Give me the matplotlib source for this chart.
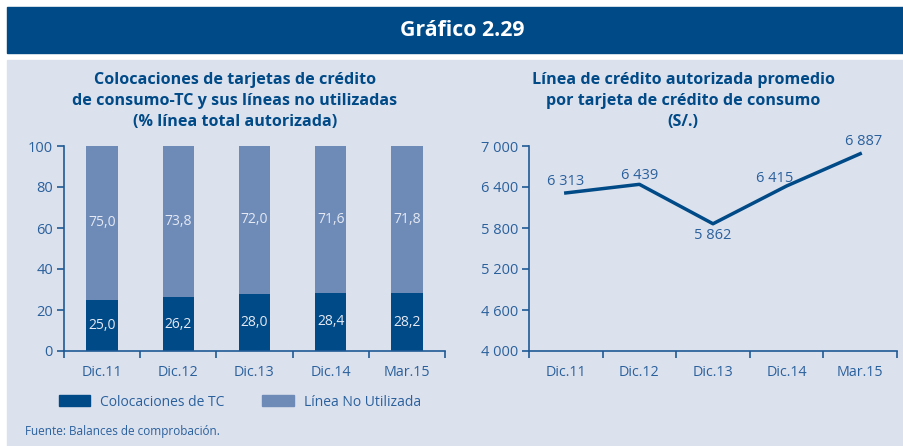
import matplotlib.pyplot as plt
from matplotlib.patches import Rectangle, Patch

plt.rcParams['font.family'] = ['Open Sans', 'DejaVu Sans']

# Data
periodos = ['Dic.11', 'Dic.12', 'Dic.13', 'Dic.14', 'Mar.15']
colocaciones_tc = [25.0, 26.2, 28.0, 28.4, 28.2]
linea_no_utilizada = [75.0, 73.8, 72.0, 71.6, 71.8]
linea_promedio = [6313, 6439, 5862, 6415, 6887]
etiquetas_linea = ['6 313', '6 439', '5 862', '6 415', '6 887']
offsets_linea = [(0, 11), (0, 9), (0, -12), (-12, 7), (3, 12)]

azul_oscuro = '#004a87'
azul_claro = '#6e8bb8'
fondo = '#dce1ee'
color_texto = '#2a619c'
color_eje = '#1f5a96'

W, H = 904, 446
fig = plt.figure(figsize=(W / 100, H / 100), dpi=100)

# banner and panel background
fig.patches.append(Rectangle((7 / W, 1 - 53 / H), 1, 46 / H, transform=fig.transFigure,
                             color=azul_oscuro, zorder=-2))
fig.patches.append(Rectangle((7 / W, 0), 1, 1 - 60 / H, transform=fig.transFigure,
                             color=fondo, zorder=-2))
fig.text(462 / W, 1 - 31 / H, 'Gráfico 2.29', color='white', fontsize=15.3,
         fontweight='bold', ha='center', va='center')


def estilo(ax):
    ax.set_facecolor('none')
    for s in ['top', 'right']:
        ax.spines[s].set_visible(False)
    for s in ['left', 'bottom']:
        ax.spines[s].set_color(color_eje)
        ax.spines[s].set_linewidth(1.2)
    ax.set_xlim(-0.5, 4.5)
    ax.set_xticks([i - 0.5 for i in range(6)])
    ax.set_xticklabels([])
    ax.set_xticks(range(5), minor=True)
    ax.set_xticklabels(periodos, minor=True)
    ax.tick_params(axis='x', which='major', length=5, color=color_eje, width=1.2)
    ax.tick_params(axis='x', which='minor', length=0, pad=10, labelsize=10.3,
                   labelcolor=color_texto)
    ax.tick_params(axis='y', length=5, color=color_eje, width=1.2, labelsize=10.5,
                   labelcolor=color_texto, pad=3)


# Left chart: stacked bars
ax1 = fig.add_axes([64 / W, 95 / H, 381 / W, 205 / H])
estilo(ax1)
x = range(len(periodos))
ax1.bar(x, colocaciones_tc, width=0.41, color=azul_oscuro)
ax1.bar(x, linea_no_utilizada, width=0.41, bottom=colocaciones_tc, color=azul_claro)
for i in x:
    ax1.text(i, colocaciones_tc[i] / 2, f'{colocaciones_tc[i]:.1f}'.replace('.', ','),
             ha='center', va='center', color='#e4e9f3', fontsize=10)
    ax1.text(i, colocaciones_tc[i] + linea_no_utilizada[i] / 2,
             f'{linea_no_utilizada[i]:.1f}'.replace('.', ','),
             ha='center', va='center', color='#e4e9f3', fontsize=10)
ax1.set_ylim(0, 100)
ax1.set_yticks(range(0, 101, 20))
fig.text(235 / W, 1 - 101 / H,
         'Colocaciones de tarjetas de crédito\nde consumo-TC y sus líneas no utilizadas\n(% línea total autorizada)',
         ha='center', va='center', fontsize=11.6, fontweight='bold', color=azul_oscuro,
         linespacing=1.45)

ax1.legend(handles=[Patch(color=azul_oscuro, label='Colocaciones de TC'),
                    Patch(color=azul_claro, label='Línea No Utilizada')],
           loc='center left', bbox_to_anchor=(46 / W, 1 - 402 / H),
           bbox_transform=fig.transFigure, ncol=2, frameon=False, fontsize=10,
           handlelength=2.3, handleheight=0.8, handletextpad=0.72, columnspacing=2.7,
           labelcolor=color_texto)
fig.text(25 / W, 1 - 431 / H, 'Fuente: Balances de comprobación.', fontsize=8.5,
         color=color_texto, va='center')

# Right chart: line
ax2 = fig.add_axes([529 / W, 95 / H, 368 / W, 205 / H])
estilo(ax2)
ax2.plot(x, linea_promedio, color=azul_oscuro, linewidth=2.5)
for i in x:
    ax2.annotate(etiquetas_linea[i], (i, linea_promedio[i]), xytext=offsets_linea[i],
                 textcoords='offset pixels', ha='center', va='center',
                 fontsize=10.5, color=color_texto)
ax2.set_ylim(4000, 7000)
ax2.set_yticks(range(4000, 7001, 600))
ax2.set_yticklabels([f'{v:,}'.replace(',', ' ') for v in range(4000, 7001, 600)])
fig.text(683 / W, 1 - 101 / H,
         'Línea de crédito autorizada promedio\npor tarjeta de crédito de consumo\n(S/.)',
         ha='center', va='center', fontsize=11.6, fontweight='bold', color=azul_oscuro,
         linespacing=1.45)

fig.savefig('out.png', dpi=100)
